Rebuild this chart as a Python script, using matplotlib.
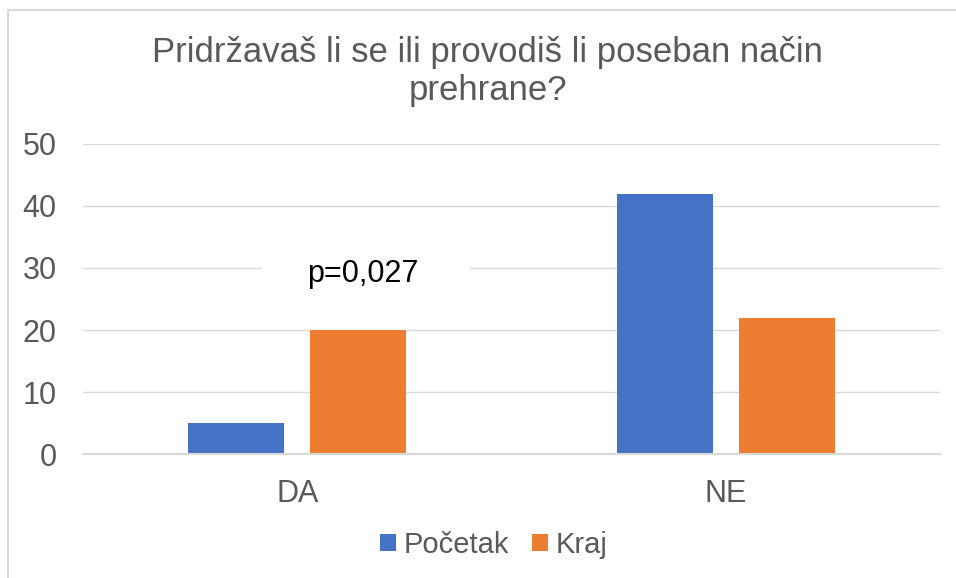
import numpy as np
import matplotlib
matplotlib.use('Agg')
import matplotlib.pyplot as plt
from matplotlib.patches import Rectangle
from matplotlib.lines import Line2D

# data
categories = ['DA', 'NE']
series_names = ['Početak', 'Kraj']
pocetak = [5, 42]
kraj = [20, 22]
title = 'Pridržavaš li se ili provodiš li poseban način\nprehrane?'
note = 'p=0,027'

plt.rcParams['font.family'] = ['Liberation Sans', 'DejaVu Sans']

fig = plt.figure(figsize=(9.56, 5.78), dpi=100)
ax = fig.add_axes([0.0868, 0.2145, 0.8965, 0.5364])

x = np.arange(len(categories))
w = 0.224
off = 0.1424
ax.bar(x - off, pocetak, w, color='#4472C4', label=series_names[0], zorder=3)
ax.bar(x + off, kraj, w, color='#ED7D31', label=series_names[1], zorder=3)

ax.set_xlim(-0.5, 1.5)
ax.set_ylim(0, 50)
ax.set_yticks(range(0, 51, 10))
ax.set_xticks(x)
ax.set_xticklabels(categories)
ax.yaxis.grid(True, color='#D9D9D9', linewidth=1.0, zorder=0)
ax.set_axisbelow(True)
for s in ['top', 'right', 'left']:
  ax.spines[s].set_visible(False)
ax.spines['bottom'].set_color('#D9D9D9')
ax.spines['bottom'].set_linewidth(1.5)
ax.spines['bottom'].set_zorder(4)
ax.tick_params(axis='both', length=0, labelsize=22, labelcolor='#595959')
ax.tick_params(axis='y', pad=19)
ax.tick_params(axis='x', pad=18)

# white box behind the p-value, text cut at the bottom
box = Rectangle((-0.082, 27.3), 0.485, 4.8, facecolor='white', edgecolor='none', zorder=2)
ax.add_patch(box)
t = ax.text(0.153, 27.7, note, ha='center', va='baseline', fontsize=22, color='black', zorder=5)
t.set_clip_path(box)

fig.text(0.51, 0.876, title, ha='center', va='center', fontsize=25, color='#595959', linespacing=1.2)

fig.legend(loc='center', bbox_to_anchor=(494 / 956, 1 - 545 / 578), ncol=2, frameon=False,
           fontsize=21, labelcolor='#595959', handlelength=0.55, handleheight=0.55,
           handletextpad=0.25, columnspacing=0.8)

# chart border (left and top visible)
fig.add_artist(Line2D([7.5 / 956, 7.5 / 956], [0, 1 - 10 / 578], color='#D9D9D9', linewidth=1.5, transform=fig.transFigure))
fig.add_artist(Line2D([7.5 / 956, 1], [1 - 10 / 578, 1 - 10 / 578], color='#D9D9D9', linewidth=1.5, transform=fig.transFigure))

plt.savefig('out.png', dpi=100)
